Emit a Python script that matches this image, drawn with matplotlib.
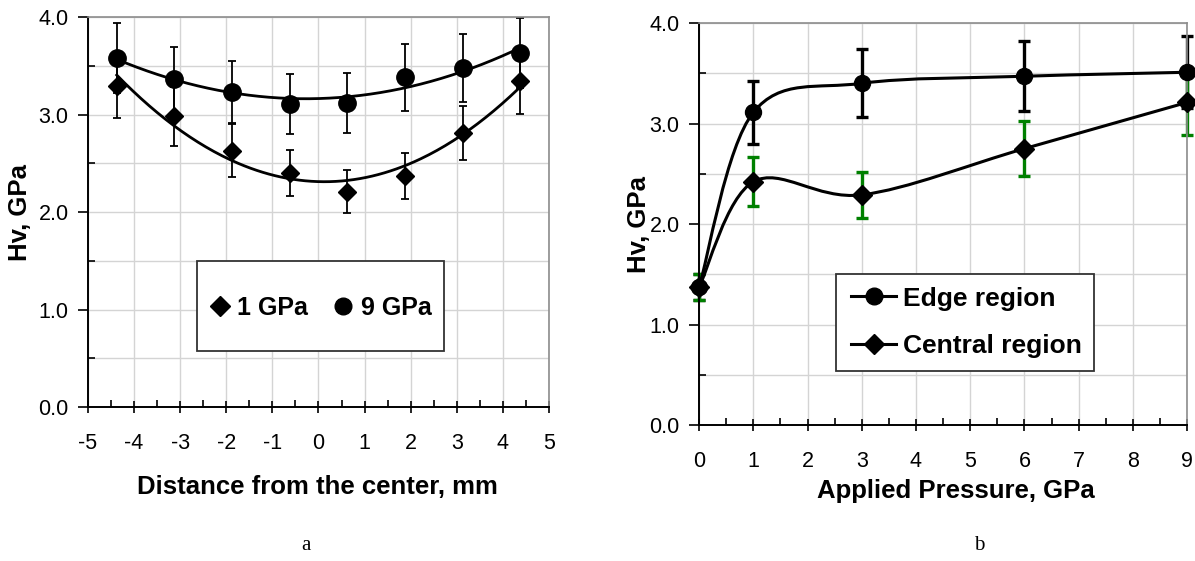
import numpy as np
import matplotlib
matplotlib.use("Agg")
import matplotlib.pyplot as plt
from matplotlib.path import Path
from matplotlib.patches import PathPatch, Rectangle
from matplotlib.lines import Line2D
from matplotlib.ticker import MultipleLocator, FormatStrFormatter

plt.rcParams['font.family'] = ['Liberation Sans', 'DejaVu Sans']
plt.rcParams['axes.unicode_minus'] = False

# (a) hardness across the disc
dist_mm = [-4.375, -3.125, -1.875, -0.625, 0.625, 1.875, 3.125, 4.375]
hv_1gpa = [3.29, 2.98, 2.63, 2.40, 2.21, 2.37, 2.81, 3.34]
err_1gpa = [0.33, 0.30, 0.27, 0.24, 0.22, 0.24, 0.28, 0.33]
hv_9gpa = [3.58, 3.36, 3.23, 3.11, 3.12, 3.38, 3.48, 3.63]
err_9gpa = [0.36, 0.33, 0.32, 0.31, 0.31, 0.34, 0.35, 0.36]

# (b) hardness vs applied pressure
pressure = [0, 1, 3, 6, 9]
hv_edge = [1.37, 3.11, 3.40, 3.47, 3.51]
err_edge = [0.13, 0.31, 0.34, 0.35, 0.36]
hv_central = [1.37, 2.42, 2.29, 2.75, 3.21]
err_central = [0.13, 0.245, 0.23, 0.275, 0.32]

GREEN = '#008000'
GRID = '#d4d4d4'
TICK_FS = 15.5
LABEL_FS = 18.5


def smooth_path(xs, ys):
    # spreadsheet-style smoothed line: cubic Bezier through every point
    p = np.column_stack([xs, ys]).astype(float)
    n = len(p)
    verts = [p[0]]
    codes = [Path.MOVETO]
    for i in range(n - 1):
        p_prev = p[i - 1] if i > 0 else p[i]
        p_next = p[i + 2] if i + 2 < n else p[i + 1]
        c1 = p[i] + (p[i + 1] - p_prev) / 6.0
        c2 = p[i + 1] - (p_next - p[i]) / 6.0
        verts += [c1, c2, p[i + 1]]
        codes += [Path.CURVE4] * 3
    return Path(verts, codes)


def style_axes(ax, xmin, xmax):
    ax.set_xlim(xmin, xmax)
    ax.set_ylim(0, 4)
    ax.xaxis.set_major_locator(MultipleLocator(1))
    ax.xaxis.set_minor_locator(MultipleLocator(0.5))
    ax.yaxis.set_major_locator(MultipleLocator(1))
    ax.yaxis.set_minor_locator(MultipleLocator(0.5))
    ax.yaxis.set_major_formatter(FormatStrFormatter('%.1f'))
    ax.grid(True, which='major', axis='x', color=GRID, lw=1)
    ax.grid(True, which='both', axis='y', color=GRID, lw=1)
    ax.set_axisbelow(True)
    ax.tick_params(axis='x', which='major', direction='inout', length=9, width=1.2,
                   pad=14, labelsize=TICK_FS)
    ax.tick_params(axis='x', which='minor', direction='in', length=5, width=1.2)
    ax.tick_params(axis='y', which='major', direction='out', length=7, width=1.2,
                   pad=7, labelsize=TICK_FS)
    ax.tick_params(axis='y', which='minor', direction='in', length=5, width=1.2)
    for side in ('left', 'bottom'):
        ax.spines[side].set_color('black')
        ax.spines[side].set_linewidth(1.4)
    for side in ('top', 'right'):
        ax.spines[side].set_color('#8c8c8c')
        ax.spines[side].set_linewidth(1.2)


fig = plt.figure(figsize=(11.95, 5.61), dpi=100)
ax1 = fig.add_axes([0.0736, 0.2745, 0.3858, 0.6952])
ax2 = fig.add_axes([0.585, 0.2424, 0.4084, 0.7166])

# ---- panel a ----
style_axes(ax1, -5, 5)
xfit = np.linspace(dist_mm[0], dist_mm[-1], 200)
for hv in (hv_1gpa, hv_9gpa):
    coef = np.polyfit(dist_mm, hv, 2)
    ax1.plot(xfit, np.polyval(coef, xfit), color='black', lw=2.0, zorder=3)
ax1.errorbar(dist_mm, hv_9gpa, yerr=err_9gpa, fmt='none', ecolor='black',
             elinewidth=1.3, capsize=3, capthick=1.3, zorder=2)
ax1.errorbar(dist_mm, hv_1gpa, yerr=err_1gpa, fmt='none', ecolor='black',
             elinewidth=1.3, capsize=3, capthick=1.3, zorder=2)
ax1.plot(dist_mm, hv_9gpa, 'o', color='black', ms=12.5, zorder=4)
ax1.plot(dist_mm, hv_1gpa, 'D', color='black', ms=9.5, zorder=4)

ax1.set_ylabel('Hv, GPa', fontsize=LABEL_FS, fontweight='bold', va='center')
ax1.yaxis.set_label_coords(-0.148, 0.5)
ax1.set_xlabel('Distance from the center, mm', fontsize=LABEL_FS,
               fontweight='bold', va='center')
ax1.xaxis.set_label_coords(0.498, -0.205)

ax1.add_patch(Rectangle((0.236, 0.144), 0.536, 0.23, transform=ax1.transAxes,
                        facecolor='white', edgecolor='#333333', lw=1.3, zorder=5))
h1 = [Line2D([], [], marker='D', ls='none', color='black', ms=10),
      Line2D([], [], marker='o', ls='none', color='black', ms=12)]
leg1 = ax1.legend(h1, ['1 GPa', '9 GPa'], ncol=2, loc='center',
                  bbox_to_anchor=(0.505, 0.254), frameon=False,
                  prop={'weight': 'bold', 'size': 18}, handlelength=0.8,
                  handletextpad=0.3, columnspacing=1.0, borderpad=0,
                  borderaxespad=0)
leg1.set_zorder(6)

# ---- panel b ----
style_axes(ax2, 0, 9)
ax2.errorbar(pressure, hv_edge, yerr=err_edge, fmt='none', ecolor='black',
             elinewidth=2.4, capsize=4, capthick=2.4, zorder=2, clip_on=False)
ax2.errorbar(pressure, hv_central, yerr=err_central, fmt='none', ecolor=GREEN,
             elinewidth=2.4, capsize=4, capthick=2.4, zorder=2.5, clip_on=False)
for hv in (hv_edge, hv_central):
    ax2.add_patch(PathPatch(smooth_path(pressure, hv), facecolor='none',
                            edgecolor='black', lw=2.2, zorder=3, clip_on=False))
ax2.plot(pressure, hv_edge, 'o', color='black', ms=11.5, zorder=4, clip_on=False)
ax2.plot(pressure, hv_central, 'D', color='black', ms=10, zorder=4, clip_on=False)

ax2.set_ylabel('Hv, GPa', fontsize=LABEL_FS, fontweight='bold', va='center')
ax2.yaxis.set_label_coords(-0.123, 0.5)
ax2.set_xlabel('Applied Pressure, GPa', fontsize=LABEL_FS, fontweight='bold',
               va='center')
ax2.xaxis.set_label_coords(0.527, -0.163)

ax2.add_patch(Rectangle((0.281, 0.134), 0.528, 0.242, transform=ax2.transAxes,
                        facecolor='white', edgecolor='#333333', lw=1.3, zorder=5))
h2 = [Line2D([], [], marker='o', color='black', lw=2.2, ms=12),
      Line2D([], [], marker='D', color='black', lw=2.2, ms=10)]
leg2 = ax2.legend(h2, ['Edge region', 'Central region'], loc='center left',
                  bbox_to_anchor=(0.312, 0.255), frameon=False,
                  prop={'weight': 'bold', 'size': 19}, handlelength=1.7,
                  handletextpad=0.25, labelspacing=0.9, borderpad=0,
                  borderaxespad=0)
leg2.set_zorder(6)

fig.text(306 / 1195, 1 - 545 / 561, 'a', family='Liberation Serif', fontsize=15,
         ha='center', va='center')
fig.text(979 / 1195, 1 - 545 / 561, 'b', family='Liberation Serif', fontsize=15,
         ha='center', va='center')

fig.savefig('out.png', dpi=100, facecolor='white')
